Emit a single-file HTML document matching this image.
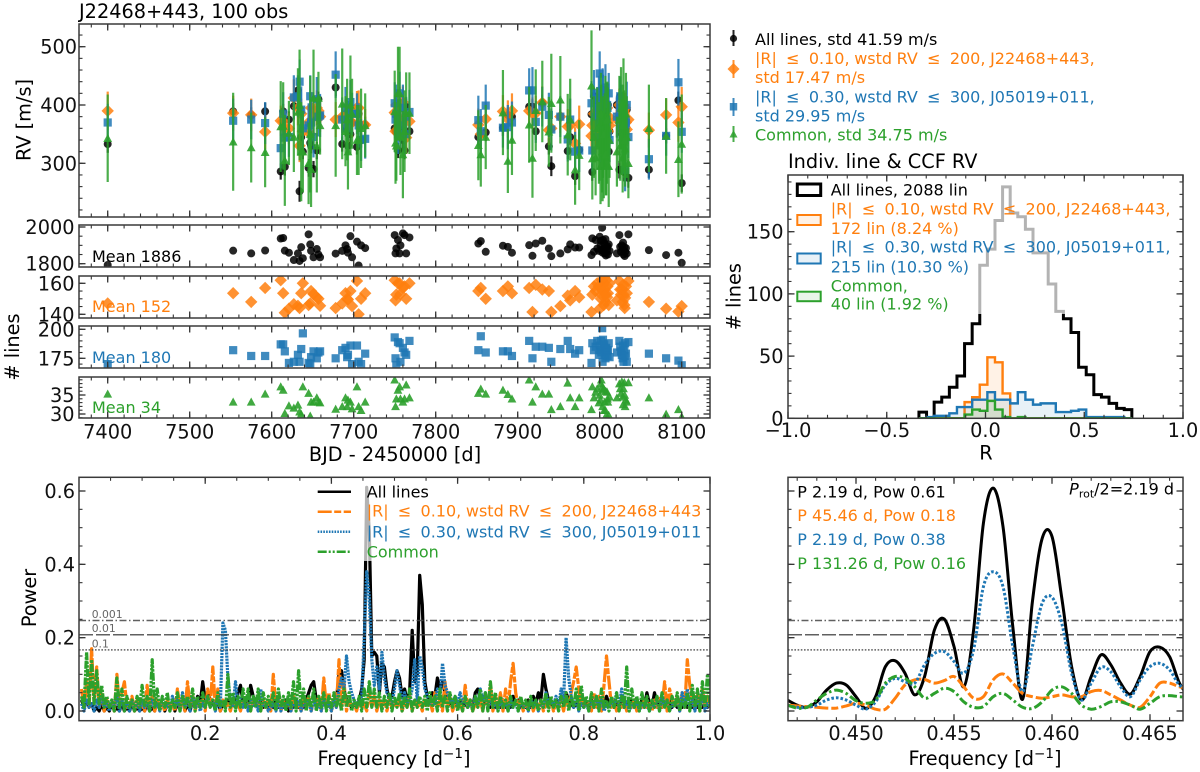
<!DOCTYPE html>
<html lang="en">
<head>
<meta charset="utf-8">
<title>J22468+443 RV chart</title>
<style>
html,body{margin:0;padding:0;background:#fff;}
svg{display:block;font-family:"DejaVu Sans","Liberation Sans",sans-serif;}
text{white-space:pre;}
.tight{word-spacing:-0.45px;}
</style>
</head>
<body>
<svg id="fig" width="1200" height="772" viewBox="0 0 1200 772" xmlns="http://www.w3.org/2000/svg">
<rect width="1200" height="772" fill="#fff"/>
<defs>
<clipPath id="c-rv"><rect x="79" y="24" width="631" height="193"/></clipPath>
<clipPath id="c-k"><rect x="79" y="225" width="631" height="42"/></clipPath>
<clipPath id="c-o"><rect x="79" y="276" width="631" height="42"/></clipPath>
<clipPath id="c-b"><rect x="79" y="326" width="631" height="42"/></clipPath>
<clipPath id="c-g"><rect x="79" y="377" width="631" height="41"/></clipPath>
<clipPath id="c-h"><rect x="788" y="175" width="395" height="243"/></clipPath>
<clipPath id="c-p"><rect x="79" y="477" width="631" height="244"/></clipPath>
<clipPath id="c-z"><rect x="788" y="477" width="395" height="244"/></clipPath>
</defs>
<g id="layer"></g>

<text x="79" y="18" font-size="19.3">J22468+443, 100 obs</text>
<text transform="translate(30.5,120) rotate(-90)" text-anchor="middle" font-size="19.3">RV [m/s]</text>
<text transform="translate(19,347) rotate(-90)" text-anchor="middle" font-size="19.3"># lines</text>
<text x="395" y="461" text-anchor="middle" font-size="19.3">BJD - 2450000 [d]</text>
<text x="92" y="262" font-size="16" fill="#000">Mean 1886</text>
<text x="92" y="312" font-size="16" fill="#ff7f0e">Mean 152</text>
<text x="92" y="363" font-size="16" fill="#1f77b4">Mean 180</text>
<text x="92" y="413" font-size="16" fill="#2ca02c">Mean 34</text>

<g font-size="16">
  <g>
    <line x1="733.5" x2="733.5" y1="30" y2="46" stroke="#000" stroke-width="2" opacity=".85"/>
    <circle cx="733.5" cy="38.5" r="3.6" fill="#000" opacity=".85"/>
    <text x="755" y="45" fill="#000">All lines, std 41.59 m/s</text>
  </g>
  <g fill="#ff7f0e">
    <line x1="733.5" x2="733.5" y1="60" y2="78" stroke="#ff7f0e" stroke-width="2" opacity=".85"/>
    <polygon points="733.5,63 739.5,69 733.5,75 727.5,69" opacity=".85"/>
    <text class="tight" x="755" y="64">|R|&#160;&#160;≤&#160;&#160;0.10, wstd RV&#160;&#160;≤&#160;&#160;200, J22468+443,</text>
    <text x="755" y="83">std 17.47 m/s</text>
  </g>
  <g fill="#1f77b4">
    <line x1="733.5" x2="733.5" y1="98" y2="116" stroke="#1f77b4" stroke-width="2" opacity=".85"/>
    <rect x="729.8" y="103" width="7.4" height="7.5" opacity=".85"/>
    <text class="tight" x="755" y="102.5">|R|&#160;&#160;≤&#160;&#160;0.30, wstd RV&#160;&#160;≤&#160;&#160;300, J05019+011,</text>
    <text x="755" y="121.5">std 29.95 m/s</text>
  </g>
  <g fill="#2ca02c">
    <line x1="733.5" x2="733.5" y1="126" y2="142" stroke="#2ca02c" stroke-width="2" opacity=".85"/>
    <polygon points="733.5,130 737.5,137.5 729.5,137.5" opacity=".85"/>
    <text x="755" y="140.7">Common, std 34.75 m/s</text>
  </g>
</g>

<text x="788" y="168" font-size="19.3">Indiv. line &amp; CCF RV</text>
<text transform="translate(740.5,296.7) rotate(-90)" text-anchor="middle" font-size="19.3"># lines</text>
<text x="986" y="459.5" text-anchor="middle" font-size="19.3">R</text>
<text transform="translate(36,598) rotate(-90)" text-anchor="middle" font-size="19.3">Power</text>
<text x="394" y="765" text-anchor="middle" font-size="19.3">Frequency [d<tspan dy="-7" font-size="13.5">−1</tspan><tspan dy="7">]</tspan></text>
<text x="985" y="765" text-anchor="middle" font-size="19.3">Frequency [d<tspan dy="-7" font-size="13.5">−1</tspan><tspan dy="7">]</tspan></text>

<g font-size="16">
  <g>
    <rect x="797.3" y="184" width="23.4" height="11.5" fill="none" stroke="#000" stroke-width="3"/>
    <text x="830.7" y="195.7" fill="#000">All lines, 2088 lin</text>
  </g>
  <g fill="#ff7f0e">
    <rect x="797.3" y="215" width="23.4" height="10" fill="#ff7f0e" fill-opacity=".1" stroke="#ff7f0e" stroke-width="2"/>
    <text class="tight" x="830.7" y="214.3">|R|&#160;&#160;≤&#160;&#160;0.10, wstd RV&#160;&#160;≤&#160;&#160;200, J22468+443,</text>
    <text x="830.7" y="234">172 lin (8.24 %)</text>
  </g>
  <g fill="#1f77b4">
    <rect x="797.3" y="253.5" width="23.4" height="10" fill="#1f77b4" fill-opacity=".1" stroke="#1f77b4" stroke-width="2"/>
    <text class="tight" x="830.7" y="252.7">|R|&#160;&#160;≤&#160;&#160;0.30, wstd RV&#160;&#160;≤&#160;&#160;300, J05019+011,</text>
    <text x="830.7" y="272.3">215 lin (10.30 %)</text>
  </g>
  <g fill="#2ca02c">
    <rect x="797.3" y="291.7" width="23.4" height="9.5" fill="#2ca02c" fill-opacity=".1" stroke="#2ca02c" stroke-width="2"/>
    <text x="830.7" y="291.3">Common,</text>
    <text x="830.7" y="309.3">40 lin (1.92 %)</text>
  </g>
</g>

<g font-size="16">
  <g>
    <line x1="317.7" x2="351" y1="491.7" y2="491.7" stroke="#000" stroke-width="2.5"/>
    <text x="366.7" y="497.3" fill="#000">All lines</text>
  </g>
  <g>
    <line x1="317.7" x2="351" y1="511.7" y2="511.7" stroke="#ff7f0e" stroke-width="2.5" stroke-dasharray="14 2.5 7 2.5"/>
    <text class="tight" x="366.7" y="516.7" fill="#ff7f0e">|R|&#160;&#160;≤&#160;&#160;0.10, wstd RV&#160;&#160;≤&#160;&#160;200, J22468+443</text>
  </g>
  <g>
    <line x1="317.7" x2="351" y1="531.7" y2="531.7" stroke="#1f77b4" stroke-width="2.5" stroke-dasharray="1.6 1.2"/>
    <text class="tight" x="366.7" y="537.3" fill="#1f77b4">|R|&#160;&#160;≤&#160;&#160;0.30, wstd RV&#160;&#160;≤&#160;&#160;300, J05019+011</text>
  </g>
  <g>
    <line x1="317.7" x2="351" y1="551.7" y2="551.7" stroke="#2ca02c" stroke-width="2.5" stroke-dasharray="9 2 2 2 2 2"/>
    <text x="366.7" y="557.7" fill="#2ca02c">Common</text>
  </g>
</g>

<g font-size="16">
  <text x="797.3" y="497.3" fill="#000">P 2.19 d, Pow 0.61</text>
  <text x="797.3" y="521" fill="#ff7f0e">P 45.46 d, Pow 0.18</text>
  <text x="797.3" y="545" fill="#1f77b4">P 2.19 d, Pow 0.38</text>
  <text x="797.3" y="569" fill="#2ca02c">P 131.26 d, Pow 0.16</text>
  <text x="1174" y="494.3" text-anchor="end" font-size="16"><tspan font-style="italic">P</tspan><tspan dy="3" font-size="11">rot</tspan><tspan dy="-3">/2=2.19 d</tspan></text>
</g>
</svg>

<script>
/* ---------- RV time series data (100 observations) ---------- */
const bjdTimes = [7400,7553,7575,7592,7611,7614,7616,7621,7627,7632,7634,7636,7638,7645,7647,7648,7651,7655,7657,7659,7678,7686,7690,7693,7696,7698,7704,7706,7709,7714,
7750,7751,7752,7754,7756,7760,7762,7764,7768,
7852,7855,7861,7882,7888,7893,7914,7918,7922,7930,7938,7941,7952,7961,7964,7970,7975,
7990,7991,7993,7995,7997,8000,8001,8002,8003,8004,8005,8006,8007,8008,8009,8010,8011,8012,
8021,8024,8025,8026,8027,8028,8029,8030,8031,8032,8033,8035,
8060,8081,8096,8100,
7692,7757,7999,8001.5,8003.5,8005.5,8007.5,8009.5,8028.5,8030.5];

const rvAll = [333,389,383,389,286,389,294,375,398,425,252,345,320,292,335,330,290,322,410,382,430,333,360,330,350,370,328,385,340,366,
360,355,385,322,375,340,322,397,355,
345,350,353,361,383,380,397,397,355,404,329,295,380,321,345,278,323,
384,285,415,345,390,410,335,360,375,418,330,345,385,365,340,400,320,355,
400,289,415,380,350,340,370,285,345,360,392,275,
289,347,408,266,
385,360,405,355,380,340,395,365,350,375];
const errAll = [15,14,13,15,14,13,15,14,13,14,18,14,13,15,14,13,14,15,13,14,15,13,14,13,15,14,13,14,13,14,
13,14,15,13,14,13,15,14,13,
14,13,15,14,13,15,14,13,15,14,14,17,13,14,13,15,14,
13,15,14,13,14,15,13,14,13,15,14,13,14,15,13,14,15,14,
13,15,14,13,15,14,13,16,14,13,15,17,
14,13,15,15,
14,13,15,14,13,15,14,13,15,14];

const rvOrange = [390,386,383,354,373,372,360,360,412,395,330,385,355,370,350,395,380,395,390,380,375,380,383,365,395,370,395,395,365,366,
387,355,400,380,403,405,375,344,372,
366,350,376,389,376,390,390,386,386,404,357,360,380,363,365,334,367,
347,365,385,350,375,395,360,345,385,370,355,400,340,375,395,355,380,365,
375,400,385,365,390,355,378,350,395,370,358,375,
357,383,370,397,
370,372,378,388,362,348,392,370,382,362];
const errOrange = [33,30,28,30,26,28,30,27,32,30,28,26,30,28,30,27,29,30,28,26,30,28,27,30,28,26,29,30,28,27,
30,28,26,30,28,27,29,28,27,
28,30,27,28,32,30,28,27,30,28,26,27,28,30,27,28,32,
30,28,26,32,30,28,27,30,33,28,26,30,28,27,30,32,28,27,
30,28,26,30,28,27,30,28,26,30,28,27,
30,28,33,34,
28,30,27,28,30,26,28,30,27,28];

const rvBlue = [370,373,375,369,326,385,344,345,413,415,440,392,360,365,415,370,345,410,380,382,452,375,395,373,405,385,385,365,340,342,
403,375,385,350,420,395,350,380,388,
374,355,399,361,362,370,425,425,371,397,383,358,380,341,375,320,322,
403,322,420,380,395,454,335,365,345,410,385,355,430,375,400,350,420,340,
380,375,415,395,360,340,380,345,289,370,400,345,
307,347,439,354,
360,365,410,345,425,370,350,395,385,360];
const errBlue = [32,38,34,36,35,37,40,34,38,36,38,40,36,38,36,40,35,38,34,37,40,38,36,34,38,36,35,38,36,34,
36,38,50,34,37,40,36,34,38,
42,38,36,34,38,36,38,40,36,34,38,36,35,38,36,34,37,
38,36,40,38,36,38,34,37,40,42,38,36,40,34,38,36,35,38,
36,38,34,40,36,38,36,34,37,38,40,36,
35,34,40,36,
36,38,40,34,38,36,37,40,38,36];

const rvGreen = [343,337,327,319,363,364,305,352,345,388,400,320,320,300,350,290,412,330,412,365,365,402,355,320,400,385,340,340,360,365,
389,335,330,420,420,315,355,386,386,
331,315,345,387,304,340,366,309,391,406,354,403,409,349,375,289,314,
433,308,345,310,360,330,295,370,320,345,300,355,380,310,330,360,295,340,
320,375,330,395,345,310,405,355,325,385,345,300,
360,347,307,333,
375,345,335,385,300,350,315,375,365,340];
const errGreen = [75,84,60,60,78,75,78,55,60,75,95,85,70,70,100,65,83,80,45,50,88,95,60,65,85,60,60,60,68,55,
70,70,60,80,80,75,70,70,70,
60,55,55,73,55,60,65,68,70,70,60,85,75,70,70,60,60,
95,70,70,65,70,60,65,65,70,70,60,65,70,65,65,70,70,65,
60,75,60,70,65,60,75,70,65,70,70,60,
75,65,65,85,
70,65,70,70,65,60,70,65,70,65];

const linesAll = [1793,1871,1856,1872,1937,1940,1871,1860,1820,1856,1815,1890,1830,1960,1905,1870,1835,1880,1850,1835,1855,1870,1900,1860,1950,1835,1920,1790,1900,1885,
1956,1856,1883,1929,1856,1965,1956,1856,1943,
1910,1923,1865,1898,1892,1860,1901,1843,1910,1925,1883,1841,1856,1878,1905,1888,1888,
1847,1938,1865,1929,1883,1947,1901,1874,1996,1929,1883,1856,1934,1892,1874,1850,1905,1870,
1856,1956,1892,1865,1900,1880,1850,1890,1865,1885,1855,1960,
1874,1847,1860,1805,
1880,1900,1870,1925,1860,1910,1845,1895,1915,1842];
const linesOrange = [147,153.6,148,157,162,153.6,141,143.6,146.5,145.5,144,153.6,160,146,147,155,153,151,150,145.5,144,147,153.6,149.5,155,145.3,161.5,140,150,153.6,
162,149,152.7,160,160,157,158,150,160,
155,157,150,155,158,153.6,157,141.5,159,156,155,141.5,145.3,152,149,155,151,
141.5,152.7,158,155,160,143.6,157,152.7,162,159,146,156,148,162,151,153.6,146,160,
149,161.5,156,152.7,156,148,152.7,146,150.6,158,153.6,161.5,
148,143.6,141.8,145.3,
150,153,158,150,155,164,153,158,159,144];
const linesBlue = [170,182,177,177,187,187,181,171,172,178,172,183,196.5,171,170,176,181,175,180,181,175,182,184,178,186,170,186,172,170,179,
193,175,169,189,188,184,180,178,190,
182,194,180,181,181,177,190,175,185,185,184,172,183,190,183,179,182,
171,188,182,185,190,186,182,180,201,191,185,178,175,184,181,182,188,176,
180,190,185,181,178,175,172,182,188,179,172,189,
179,175,173,169,
176,172,178,190,172,187,183,177,186,177];
const linesGreen = [35.3,33.2,33.2,35.3,37.2,36.3,30.2,32.2,31.6,32.4,30.6,30,37.2,35.5,29.5,33.2,33.2,34.3,33.2,33,31.3,32,34.3,33.7,33.2,31.4,37.2,32,31,33.2,
39,32,34,36.3,37.2,33.2,34,37.7,34.3,
35.5,36.6,35.3,36.3,35.2,34,39,33.2,37.2,35.3,35.3,31.2,32,38.2,34.3,32,34.3,
31.2,37.2,34.3,35.8,36.7,35,33.7,39,37.2,36.3,36.7,33.2,31,29.7,35.8,33.2,29.7,34.5,
34.3,38,36.7,35.5,38.5,34.5,36.7,38.3,32,33.7,33.2,38.3,
34.3,30,31.2,29.3,
32,34,33,38,32,31,36,34,32.5,35];

/* ---------- Histogram data (counts per R bin) ---------- */
const histBinStart = -0.337;
const histBinWidth = 0.0385;
const histAll = [5,0,13,17,25,34,60,76,123,136,159,186,165,162,152,133,133,108,86,80,69,41,35,19,17,12,8,7];
const histOrange = [0,0,0,0,0,0,13,17,27,49,45,20,0,0,0,0,0,0,0,0,0,0,0,0,0,0,0,0];
const histBlue = [0,1,2,2,4,9,9,15,15,21,15,15,12,21,15,11,12,12,5,5,6,7,1,1,1,1,1,0];
const histGreen = [0,0,0,0,0,0,3,7,6,14,7,1,0,1,0,0,0,0,0,0,0,0,0,0,0,0,0,0];

/* ---------- Periodogram data, hundredths of power per 0.004 d^-1 ---------- */
const freqStep = 0.004;
const powerAll = [3,1,3,1,2,0,1,0,2,0,1,0,2,0,1,0,2,0,1,0,2,0,1,0,1,
0,2,0,1,0,3,1,2,0,2,1,2,0,2,1,3,0,2,0,3,1,4,2,8,3,
5,3,2,1,3,0,2,1,3,1,2,1,5,7,2,3,1,7,4,2,1,3,1,2,1,
2,1,3,1,2,1,3,0,2,1,3,1,2,1,3,5,7,8,3,2,1,3,1,2,1,
2,3,10,11,6,3,2,1,2,1,3,6,14,61,49,15,16,15,5,13,12,6,3,4,8,
11,9,4,6,3,5,22,8,10,37,29,8,4,3,5,4,9,6,8,5,3,2,1,2,1,
3,1,2,1,3,1,5,6,3,4,2,3,1,2,1,2,1,3,1,2,1,4,2,3,1,
2,1,3,1,4,2,5,3,10,6,3,2,1,3,1,4,2,5,3,2,1,2,1,2,1,
2,1,3,1,2,1,3,1,4,2,3,1,2,1,3,1,2,1,3,1,2,1,3,1,5,
2,1,5,2,3,1,2,1,3,1,2,1,3,1,2,1,2,1,3,1,2,1,2,1,2];
const powerOrange = [6,1,8,1,17,2,12,1,5,0,3,1,2,0,10,1,5,8,1,1,4,0,3,1,2,
0,7,1,4,0,3,1,2,0,3,1,2,0,6,1,3,0,8,1,4,0,3,1,3,0,
6,1,12,1,6,0,3,1,2,0,3,1,2,0,3,1,2,0,3,1,2,0,3,1,3,
0,10,1,4,0,3,1,3,0,4,1,2,0,3,1,4,0,3,1,4,0,9,1,5,0,
3,1,14,1,8,0,3,1,2,0,3,1,2,0,5,1,4,0,3,1,3,0,3,1,2,
1,3,0,2,1,4,0,3,1,2,0,3,1,3,0,5,1,3,0,8,1,4,0,2,1,
2,0,7,1,3,0,2,1,3,0,4,1,7,0,4,1,5,0,6,1,8,13,5,1,3,
0,2,1,3,0,2,1,3,0,2,1,3,0,2,1,3,0,4,1,5,8,12,6,1,3,
1,2,0,5,1,4,0,7,15,8,1,3,0,2,1,3,0,2,1,3,0,2,1,3,1,
2,0,3,1,4,1,8,0,6,3,1,4,0,5,1,14,7,3,1,5,0,6,1,4,1];
const powerBlue = [2,0,3,1,2,0,3,1,4,1,2,0,3,1,4,0,3,1,2,0,3,1,2,0,3,
1,2,0,3,1,2,0,3,1,2,0,4,1,3,0,5,1,3,0,4,1,3,0,2,1,
4,1,3,0,3,1,24,22,9,3,1,8,2,4,1,3,0,3,1,2,0,6,1,2,0,
1,2,0,3,0,2,1,3,0,2,1,3,0,2,1,3,0,3,1,2,0,3,1,2,0,
3,1,6,9,6,15,8,5,3,1,3,4,20,38,31,14,7,12,6,16,9,5,4,2,6,
11,7,3,5,2,3,6,14,3,15,12,6,4,2,3,2,6,3,13,7,5,3,2,4,2,
5,2,3,1,2,1,4,2,6,3,5,1,3,1,2,0,3,1,2,0,3,1,2,0,2,
1,2,0,3,1,3,0,2,1,5,2,3,1,4,1,6,3,20,9,4,1,3,0,2,1,
2,0,3,1,4,1,3,0,2,1,3,1,5,1,6,1,3,0,2,1,3,0,2,1,2,
0,2,1,3,0,4,1,3,0,2,1,4,0,5,1,6,1,3,0,4,1,5,0,2,1];
const powerGreen = [4,1,16,2,14,2,11,2,7,1,4,1,3,0,9,1,6,0,4,1,3,0,4,1,7,
1,4,0,14,1,6,0,4,1,5,0,3,1,5,0,4,1,4,1,6,0,4,1,5,1,
4,1,3,0,5,1,3,0,10,1,5,0,4,1,6,1,6,0,4,1,6,0,5,1,4,
1,5,0,6,1,4,0,5,1,8,0,11,1,6,0,4,1,6,0,4,1,5,0,4,1,
5,1,4,0,6,1,5,0,3,1,4,0,6,1,8,1,6,1,5,0,4,1,5,0,4,
1,5,0,4,1,6,0,3,1,4,1,4,0,5,1,4,0,6,1,4,0,5,1,4,0,
3,0,4,1,3,0,4,1,6,0,5,0,8,1,5,0,4,1,3,0,4,1,3,0,4,
1,3,0,4,1,3,0,3,1,5,0,4,1,3,0,4,1,5,0,4,1,6,0,7,1,
4,0,5,1,4,0,6,1,3,0,4,1,5,0,4,1,12,0,6,1,4,0,5,1,4,
0,3,1,4,0,5,1,3,0,4,1,5,0,3,1,5,0,7,1,6,0,8,1,10,1];

/* ---------- Zoomed periodogram data (power per 0.0005 d^-1 from 0.4465) ---------- */
const zoomFreqStart = 0.4465;
const zoomFreqStep = 0.0005;
const zoomAll = [.030,.016,.010,.025,.057,.076,.071,.039,.007,.039,.121,.137,.103,.044,.094,.221,.251,.176,.066,.221,.512,.608,.503,.230,.032,.298,.471,.476,.308,.121,.030,.094,.153,.126,.076,.046,.094,.162,.174,.148,.076,.039];
const zoomOrange = [.016,.014,.012,.010,.008,.008,.014,.021,.016,.005,.005,.035,.071,.085,.086,.076,.083,.094,.066,.035,.039,.085,.101,.076,.048,.039,.035,.039,.044,.039,.039,.053,.056,.044,.030,.016,.010,.039,.076,.076,.066,.062];
const zoomBlue = [.016,.010,.010,.016,.030,.036,.030,.016,.005,.025,.071,.089,.080,.076,.126,.157,.162,.135,.103,.167,.339,.380,.339,.176,.053,.176,.294,.310,.239,.103,.030,.076,.119,.107,.066,.039,.085,.121,.130,.112,.071,.057];
const zoomGreen = [.016,.008,.010,.030,.048,.057,.048,.028,.021,.030,.076,.094,.089,.066,.035,.048,.062,.053,.025,.010,.012,.039,.048,.030,.010,.007,.025,.057,.066,.048,.016,.005,.012,.025,.025,.016,.005,.021,.039,.042,.039,.037];

/* ---------- Significance levels ---------- */
const fapLabels = ['0.001','0.01','0.1'];
const fapPower = [0.2467,0.208,0.1667];

/* ---------- Tick labels ---------- */
const bjdTicks = [7400,7500,7600,7700,7800,7900,8000,8100];
const rvTicks = [300,400,500];
const linesAllTicks = [1800,2000];
const linesOrangeTicks = [140,160];
const linesBlueTicks = [175,200];
const linesGreenTicks = [30,35];
const rTicks = [-1,-0.5,0,0.5,1];
const rTickLabels = ['−1.0','−0.5','0.0','0.5','1.0'];
const countTicks = [0,50,100,150];
const freqTicks = [0.2,0.4,0.6,0.8,1.0];
const freqTickLabels = ['0.2','0.4','0.6','0.8','1.0'];
const powerTicks = [0,0.2,0.4,0.6];
const powerTickLabels = ['0.0','0.2','0.4','0.6'];
const zoomFreqTicks = [0.45,0.455,0.46,0.465];
const zoomFreqTickLabels = ['0.450','0.455','0.460','0.465'];

/* ---------- Colours ---------- */
const BLACK='#000000', ORANGE='#ff7f0e', BLUE='#1f77b4', GREEN='#2ca02c';
const SVGNS='http://www.w3.org/2000/svg';
const layer=document.getElementById('layer');

function el(parent,tag,props){
  const e=document.createElementNS(SVGNS,tag);
  for(const k in props){e.setAttribute(k,props[k]);}
  parent.appendChild(e);
  return e;
}
function linear(d0,d1,r0,r1){
  const s=v=>r0+(v-d0)*(r1-r0)/(d1-d0);
  s.invert=p=>d0+(p-r0)*(d1-d0)/(r1-r0);
  return s;
}
function panel(name,clipId){
  const g=el(layer,'g',{});
  
  
  const marks=el(g,'g',{'clip-path':'url(#'+clipId+')'});
  
  
  return {g,marks};
}
function tickLine(g,x1,y1,x2,y2,w){
  const t=el(g,'line',{x1,y1,x2,y2,stroke:'#333','stroke-width':w});
  
  
}
function tickLabel(g,x,y,anchor,str){
  const t=el(g,'text',{x,y,'text-anchor':anchor,'font-size':'19.3',fill:'#111'});
  
  
  t.textContent=str;
}
function frame(p,box,xs,ys,o){
  const {g}=p;
  const MAJ=6.5,MIN=3.5;
  const ax=el(g,'g',{});
  
  
  function minors(scale,lo,hi,step){
    const out=[];
    const a=scale.invert(lo),b=scale.invert(hi);
    const mn=Math.min(a,b),mx=Math.max(a,b);
    for(let k=Math.ceil(mn/step);k*step<=mx;k++){out.push(k*step);}
    return out;
  }
  minors(xs,box.x0,box.x1,o.xMinor).forEach(v=>{
    const x=xs(v);
    tickLine(ax,x,box.y1,x,box.y1-MIN,1.1);
    tickLine(ax,x,box.y0,x,box.y0+MIN,1.1);
  });
  minors(ys,box.y1,box.y0,o.yMinor).forEach(v=>{
    const y=ys(v);
    tickLine(ax,box.x0,y,box.x0+MIN,y,1.1);
    tickLine(ax,box.x1,y,box.x1-MIN,y,1.1);
  });
  o.xTicks.forEach((v,i)=>{
    const x=xs(v);
    tickLine(ax,x,box.y1,x,box.y1-MAJ,1.3);
    tickLine(ax,x,box.y0,x,box.y0+MAJ,1.3);
    if(o.xLabels){tickLabel(ax,x,o.xLabelY,'middle',o.xLabels[i]);}
  });
  o.yTicks.forEach((v,i)=>{
    const y=ys(v);
    tickLine(ax,box.x0,y,box.x0+MAJ,y,1.3);
    tickLine(ax,box.x1,y,box.x1-MAJ,y,1.3);
    if(o.yLabels){tickLabel(ax,o.yLabelX,y+7,'end',o.yLabels[i]);}
  });
  const r=el(g,'rect',{x:box.x0,y:box.y0,width:box.x1-box.x0,height:box.y1-box.y0,fill:'none',stroke:'#3a3a3a','stroke-width':1.5});
  
  
}
function marker(g,kind,x,y,color,s){
  if(kind==='circle'){return el(g,'circle',{cx:x,cy:y,r:s,fill:color,'fill-opacity':.85});}
  if(kind==='diamond'){return el(g,'polygon',{points:`${x},${y-s} ${x+s},${y} ${x},${y+s} ${x-s},${y}`,fill:color,'fill-opacity':.85});}
  if(kind==='square'){return el(g,'rect',{x:x-s,y:y-s,width:2*s,height:2*s,fill:color,'fill-opacity':.85});}
  return el(g,'polygon',{points:`${x},${y-s} ${x+s},${y+s*.85} ${x-s},${y+s*.85}`,fill:color,'fill-opacity':.9});
}

/* ---------- Shared BJD axis ---------- */
const xBjd=linear(7400,8100,107.7,681.7);

/* ---------- RV panel ---------- */
const yRv=linear(300,500,163.3,46.7);
const pRv=panel('rv-panel','c-rv');
const rvSeries=[
  {name:'all-lines',vals:rvAll,errs:errAll,color:BLACK,kind:'circle',size:4},
  {name:'orange-selection',vals:rvOrange,errs:errOrange,color:ORANGE,kind:'diamond',size:6.2},
  {name:'blue-selection',vals:rvBlue,errs:errBlue,color:BLUE,kind:'square',size:4.1},
  {name:'common',vals:rvGreen,errs:errGreen,color:GREEN,kind:'triangle',size:4.4}
];
rvSeries.forEach(s=>{
  const grp=el(pRv.marks,'g',{});
  
  
  bjdTimes.forEach((t,i)=>{
    const x=xBjd(t);
    const bar=el(grp,'line',{x1:x,x2:x,y1:yRv(s.vals[i]-s.errs[i]),y2:yRv(s.vals[i]+s.errs[i]),stroke:s.color,'stroke-width':2.2,'stroke-opacity':.85});
    
    
    const m=marker(grp,s.kind,x,yRv(s.vals[i]),s.color,s.size);
    
    
  });
});
frame(pRv,{x0:79,x1:710,y0:24,y1:217},xBjd,yRv,{xTicks:bjdTicks,xMinor:20,yTicks:rvTicks,yMinor:20,yLabels:rvTicks.map(String),yLabelX:77});

/* ---------- Number-of-lines panels ---------- */
const countPanels=[
  {name:'lines-all-panel',clip:'c-k',vals:linesAll,y0:225,y1:267,d:[1800,2000],r:[263.7,227],ticks:linesAllTicks,minor:50,color:BLACK,kind:'circle',size:4},
  {name:'lines-orange-panel',clip:'c-o',vals:linesOrange,y0:276,y1:318,d:[140,160],r:[314.3,283.3],ticks:linesOrangeTicks,minor:5,color:ORANGE,kind:'diamond',size:6.2},
  {name:'lines-blue-panel',clip:'c-b',vals:linesBlue,y0:326,y1:368,d:[175,200],r:[358.3,329.3],ticks:linesBlueTicks,minor:5,color:BLUE,kind:'square',size:4.1},
  {name:'lines-green-panel',clip:'c-g',vals:linesGreen,y0:377,y1:418,d:[30,35],r:[414,395],ticks:linesGreenTicks,minor:1,color:GREEN,kind:'triangle',size:4.4}
];
countPanels.forEach((cp,idx)=>{
  const p=panel(cp.name,cp.clip);
  const y=linear(cp.d[0],cp.d[1],cp.r[0],cp.r[1]);
  bjdTimes.forEach((t,i)=>{
    const m=marker(p.marks,cp.kind,xBjd(t),y(cp.vals[i]),cp.color,cp.size);
    
    
  });
  const last=idx===countPanels.length-1;
  frame(p,{x0:79,x1:710,y0:cp.y0,y1:cp.y1},xBjd,y,{
    xTicks:bjdTicks,xMinor:20,yTicks:cp.ticks,yMinor:cp.minor,
    yLabels:cp.ticks.map(String),yLabelX:74.5,
    xLabels:last?bjdTicks.map(String):null,xLabelY:438.5
  });
});

/* ---------- Histogram ---------- */
const xR=linear(-1,1,788,1183);
const yCount=linear(0,150,418.3,231.7);
const pHist=panel('histogram-panel','c-h');
function stepPath(vals){
  let d='M'+xR(histBinStart)+','+yCount(0);
  vals.forEach((v,i)=>{
    d+=' L'+xR(histBinStart+i*histBinWidth)+','+yCount(v);
    d+=' L'+xR(histBinStart+(i+1)*histBinWidth)+','+yCount(v);
  });
  d+=' L'+xR(histBinStart+vals.length*histBinWidth)+','+yCount(0);
  return d;
}
[
 {name:'hist-all-lines',vals:histAll,color:BLACK,w:3,fill:'none'},
 {name:'hist-orange-selection',vals:histOrange,color:ORANGE,w:2.4,fill:ORANGE},
 {name:'hist-blue-selection',vals:histBlue,color:BLUE,w:2.4,fill:BLUE},
 {name:'hist-common',vals:histGreen,color:GREEN,w:2.4,fill:GREEN}
].forEach(s=>{
  const h=el(pHist.marks,'path',{d:stepPath(s.vals),stroke:s.color,'stroke-width':s.w,fill:s.fill,'fill-opacity':.1,'stroke-linejoin':'miter'});
  
  
});
const hVeil=el(pHist.marks,'rect',{x:790,y:177,width:388,height:137,fill:'#fff','fill-opacity':.7});


frame(pHist,{x0:788,x1:1183,y0:175,y1:418.3},xR,yCount,{xTicks:rTicks,xMinor:.1,yTicks:countTicks,yMinor:10,
  xLabels:rTickLabels,xLabelY:437,yLabels:countTicks.map(String),yLabelX:783.5});

/* ---------- Periodogram (full) ---------- */
const xFreq=linear(0.2,1.0,205.2,710);
const yPower=linear(0,0.6,711,491);
const pPer=panel('periodogram-panel','c-p');
function zigzag(vals){
  return vals.map((v,i)=>xFreq((i+1)*freqStep).toFixed(1)+','+yPower(v/100).toFixed(1)).join(' ');
}
const lineStyles={
  all:{color:BLACK,dash:''},
  orange:{color:ORANGE,dash:'14 1.5 6 1.5'},
  blue:{color:BLUE,dash:'2.2 0.9'},
  green:{color:GREEN,dash:'8 1.2 2.5 1.2 2.5 1.2'}
};
[
 {name:'all',vals:powerAll},{name:'orange',vals:powerOrange},{name:'blue',vals:powerBlue},{name:'green',vals:powerGreen}
].forEach(s=>{
  const st=lineStyles[s.name];
  const l=el(pPer.marks,'polyline',{points:zigzag(s.vals),fill:'none',stroke:st.color,'stroke-width':3.2,'stroke-dasharray':st.dash,'stroke-linejoin':'round'});
  
  
});
const fapDash=['7 2.5 1.5 2.5','14 3','1.6 1.6'];
fapPower.forEach((v,i)=>{
  const f=el(pPer.marks,'line',{x1:79,x2:710,y1:yPower(v),y2:yPower(v),stroke:'#444','stroke-width':1.5,'stroke-dasharray':fapDash[i],'stroke-opacity':.85});
  
  
  const t=el(pPer.g,'text',{x:91.7,y:yPower(v)-2.6,'font-size':10.8,fill:'#666'});
  
  
  t.textContent=fapLabels[i];
});
const pVeil=el(pPer.marks,'rect',{x:310,y:479,width:392,height:82,fill:'#fff','fill-opacity':.7});


frame(pPer,{x0:79,x1:710,y0:477.3,y1:720.7},xFreq,yPower,{xTicks:freqTicks,xMinor:.05,yTicks:powerTicks,yMinor:.05,
  xLabels:freqTickLabels,xLabelY:740,yLabels:powerTickLabels,yLabelX:75});

/* ---------- Periodogram (zoom) ---------- */
const xZoom=linear(0.45,0.465,856,1150);
const pZoom=panel('zoom-periodogram-panel','c-z');
function smooth(vals){
  const pts=vals.map((v,i)=>[xZoom(zoomFreqStart+i*zoomFreqStep),yPower(v)]);
  let d='M'+pts[0][0].toFixed(1)+','+pts[0][1].toFixed(1);
  for(let i=0;i<pts.length-1;i++){
    const p0=pts[Math.max(i-1,0)],p1=pts[i],p2=pts[i+1],p3=pts[Math.min(i+2,pts.length-1)];
    const c1=[p1[0]+(p2[0]-p0[0])/6,p1[1]+(p2[1]-p0[1])/6];
    const c2=[p2[0]-(p3[0]-p1[0])/6,p2[1]-(p3[1]-p1[1])/6];
    d+=` C${c1[0].toFixed(1)},${c1[1].toFixed(1)} ${c2[0].toFixed(1)},${c2[1].toFixed(1)} ${p2[0].toFixed(1)},${p2[1].toFixed(1)}`;
  }
  return d;
}
fapPower.forEach((v,i)=>{
  const f=el(pZoom.marks,'line',{x1:788,x2:1183,y1:yPower(v),y2:yPower(v),stroke:'#444','stroke-width':1.5,'stroke-dasharray':fapDash[i],'stroke-opacity':.85});
  
  
});
[
 {name:'all',vals:zoomAll,dash:''},
 {name:'orange',vals:zoomOrange,dash:'14 3 7 3'},
 {name:'blue',vals:zoomBlue,dash:'2.6 2'},
 {name:'green',vals:zoomGreen,dash:'9 3 2.5 3'}
].forEach(s=>{
  const l=el(pZoom.marks,'path',{d:smooth(s.vals),fill:'none',stroke:lineStyles[s.name].color,'stroke-width':3,'stroke-dasharray':s.dash});
  
  
});
frame(pZoom,{x0:788,x1:1183,y0:477.3,y1:720.7},xZoom,yPower,{xTicks:zoomFreqTicks,xMinor:.001,yTicks:powerTicks,yMinor:.05,
  xLabels:zoomFreqTickLabels,xLabelY:740});
</script>
</body>
</html>
